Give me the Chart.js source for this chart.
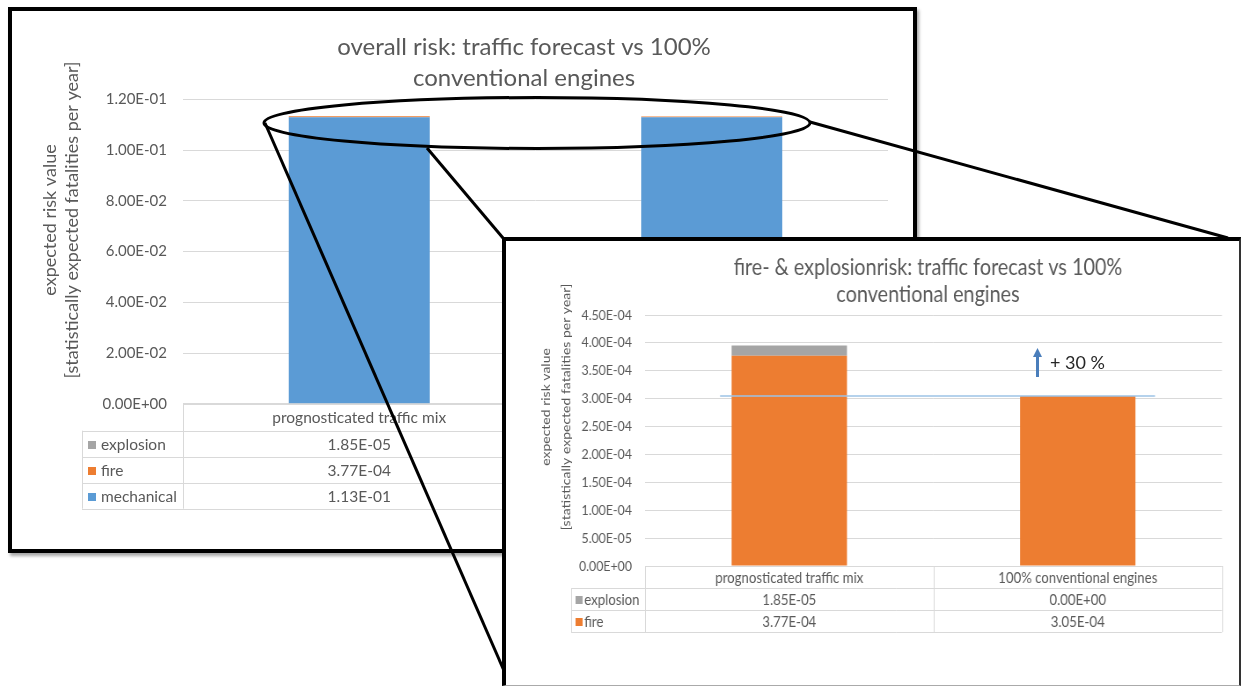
<!DOCTYPE html>
<html>
<head>
<meta charset="utf-8">
<script src="https://cdn.jsdelivr.net/npm/chart.js@4.4.1/dist/chart.umd.min.js"></script>
<style>
  html, body { margin: 0; padding: 0; background: #fff; }
  body { position: relative; width: 1242px; height: 686px; overflow: hidden; font-family: Lato, "Open Sans", sans-serif; }
  .frame { position: absolute; box-sizing: border-box; background: #fff; }
  #overallFrame { left: 8px; top: 7px; width: 909px; height: 546px; border: 4px solid #000; box-shadow: 2px 3px 3px rgba(0,0,0,0.35); }
  #overallFrame canvas { position: absolute; left: 0; top: 0; }
  #callout { position: absolute; left: 0; top: 0; }
  #detailFrame { left: 502px; top: 237px; width: 739px; height: 449px; overflow: hidden;
    border-left: 4px solid #000; border-top: 4px solid #000; border-right: 2px solid #333; border-bottom: 1px solid #aaa; }
  #detailBox { position: absolute; left: 0; top: 0; width: 833px; height: 444px; transform: scaleX(0.88); transform-origin: 0 0; }
  #arrow { position: absolute; left: 0; top: 0; }
  #increase { position: absolute; left: 1050px; top: 351px; font: 18px Lato, "Open Sans", sans-serif; color: #262626; white-space: nowrap; }
</style>
</head>
<body>
<div class="frame" id="overallFrame"><canvas id="overallChart" width="901" height="538"></canvas></div>

<svg id="callout" width="1242" height="686">
  <ellipse cx="537" cy="123" rx="273" ry="25.5" fill="none" stroke="#000" stroke-width="3"/>
  <line x1="265" y1="123" x2="505" y2="673" stroke="#000" stroke-width="3"/>
  <line x1="427" y1="148" x2="503" y2="238" stroke="#000" stroke-width="3"/>
  <line x1="810" y1="122" x2="1228" y2="238" stroke="#000" stroke-width="3"/>
</svg>

<div class="frame" id="detailFrame">
  <div id="detailBox"><canvas id="detailChart" width="833" height="444"></canvas></div>
</div>

<svg id="arrow" width="1242" height="686">
  <line x1="1037.5" y1="377" x2="1037.5" y2="355" stroke="#4a7ebb" stroke-width="3"/>
  <polygon points="1033,357 1042,357 1037.5,348" fill="#4a7ebb"/>
</svg>
<div id="increase"></div>

<script>
// ---- data ----
const categories = ['prognosticated traffic mix', '100% conventional engines'];
const mechanical = [1.13e-1, 1.13e-1];
const fire = [3.77e-4, 3.05e-4];
const explosion = [1.85e-5, 0];

const overallTicks = [0, 0.02, 0.04, 0.06, 0.08, 0.10, 0.12];
const detailTicks = [0, 5e-5, 1e-4, 1.5e-4, 2e-4, 2.5e-4, 3e-4, 3.5e-4, 4e-4, 4.5e-4];

const overallTitle = ['overall risk: traffic forecast vs 100%', 'conventional engines'];
const detailTitle = ['fire- & explosionrisk: traffic forecast vs 100%', 'conventional engines'];
const yTitle = ['expected risk value', '[statistically expected fatalities per year]'];

const COLORS = { mechanical: '#5b9bd5', fire: '#ed7d31', explosion: '#a5a5a5' };
const TEXT = '#595959';
const GRID = '#d9d9d9';
const FONT = 'Lato, "Open Sans", sans-serif';

// Excel-style scientific notation, e.g. 1.20E-01
function sci(v) {
  return Number(v).toExponential(2).toUpperCase().replace(/E([+-])(\d)$/, 'E$10$2');
}

// centred multi-line chart heading at a fixed spot
const headingPlugin = {
  id: 'heading',
  afterDraw(chart, args, o) {
    const ctx = chart.ctx;
    ctx.save();
    ctx.textAlign = 'center';
    ctx.textBaseline = 'middle';
    ctx.fillStyle = TEXT;
    ctx.font = o.size + 'px ' + FONT;
    o.lines.forEach((t, i) => ctx.fillText(t, o.x, o.y + i * o.lineHeight));
    ctx.restore();
  }
};

// rotated two-line title beside the value axis
const axisTitlePlugin = {
  id: 'axisTitle',
  afterDraw(chart, args, o) {
    const ctx = chart.ctx;
    ctx.save();
    ctx.translate(o.x, o.y);
    ctx.rotate(-Math.PI / 2);
    ctx.textAlign = 'center';
    ctx.textBaseline = 'middle';
    ctx.fillStyle = TEXT;
    ctx.font = o.size + 'px ' + FONT;
    o.lines.forEach((t, i) => ctx.fillText(t, 0, i * o.lineHeight));
    ctx.restore();
  }
};

// data table under the plot: category header plus one row per series
const dataTablePlugin = {
  id: 'dataTable',
  afterDraw(chart, args, o) {
    const { ctx, chartArea: a, scales: { x } } = chart;
    const rows = chart.data.datasets.slice().reverse();
    const top = a.bottom;
    const bottom = top + o.headerHeight + rows.length * o.rowHeight;
    const n = chart.data.labels.length;
    const cw = (a.right - a.left) / n;
    ctx.save();
    ctx.strokeStyle = GRID;
    ctx.lineWidth = 1;
    const h = (y, x0, x1) => { ctx.beginPath(); ctx.moveTo(x0, Math.round(y) + 0.5); ctx.lineTo(x1, Math.round(y) + 0.5); ctx.stroke(); };
    const v = (xx, y0, y1) => { ctx.beginPath(); ctx.moveTo(Math.round(xx) + 0.5, y0); ctx.lineTo(Math.round(xx) + 0.5, y1); ctx.stroke(); };
    h(top, a.left, a.right);
    for (let j = 0; j <= rows.length; j++) h(top + o.headerHeight + j * o.rowHeight, o.legendLeft, a.right);
    for (let i = 0; i <= n; i++) v(a.left + i * cw, top, bottom);
    v(o.legendLeft, top + o.headerHeight, bottom);

    ctx.font = o.size + 'px ' + FONT;
    ctx.fillStyle = TEXT;
    ctx.textBaseline = 'middle';
    ctx.textAlign = 'center';
    chart.data.labels.forEach((lab, i) => ctx.fillText(lab, x.getPixelForValue(i), top + o.headerHeight / 2 + 1));
    rows.forEach((ds, j) => {
      const cy = top + o.headerHeight + j * o.rowHeight + o.rowHeight / 2 + 1;
      ctx.fillStyle = ds.backgroundColor;
      ctx.fillRect(o.legendLeft + o.swatchX, Math.round(cy - o.swatch / 2), o.swatch, o.swatch);
      ctx.fillStyle = TEXT;
      ctx.textAlign = 'left';
      ctx.fillText(ds.label, o.legendLeft + o.textX, cy);
      ctx.textAlign = 'center';
      ds.data.forEach((val, i) => ctx.fillText(sci(val), x.getPixelForValue(i), cy));
    });
    ctx.restore();
  }
};

// horizontal reference line at a given value
const refLinePlugin = {
  id: 'refLine',
  afterDatasetsDraw(chart, args, o) {
    if (!o.enabled) return;
    const { ctx, chartArea: a, scales: { y } } = chart;
    const yy = y.getPixelForValue(o.value);
    const w = a.right - a.left;
    ctx.save();
    ctx.strokeStyle = o.color;
    ctx.lineWidth = o.width;
    ctx.beginPath();
    ctx.moveTo(a.left + o.from * w, yy);
    ctx.lineTo(a.left + o.to * w, yy);
    ctx.stroke();
    ctx.restore();
  }
};

Chart.register(headingPlugin, axisTitlePlugin, dataTablePlugin, refLinePlugin);

function buildOptions(cfg) {
  return {
    responsive: false,
    animation: false,
    layout: { padding: { left: 0, top: cfg.padTop, right: cfg.padRight, bottom: cfg.padBottom } },
    plugins: {
      legend: { display: false },
      tooltip: { enabled: false },
      title: { display: false },
      heading: cfg.heading,
      axisTitle: cfg.axisTitle,
      dataTable: cfg.table,
      refLine: cfg.refLine || { enabled: false }
    },
    scales: {
      x: { stacked: true, display: false },
      y: {
        stacked: true,
        min: 0,
        max: cfg.ticks[cfg.ticks.length - 1],
        afterBuildTicks: s => { s.ticks = cfg.ticks.map(v => ({ value: v })); },
        afterFit: s => { s.width = cfg.axisWidth; },
        grid: { color: GRID, lineWidth: 1, drawTicks: false },
        border: { display: false },
        ticks: {
          padding: cfg.tickPad,
          color: TEXT,
          font: { family: FONT, size: cfg.tickSize },
          callback: v => sci(v)
        }
      }
    }
  };
}

function dataset(label, data, color) {
  return { label, data, backgroundColor: color, borderWidth: 0, barPercentage: 0.4, categoryPercentage: 1 };
}

// overall risk (all three causes)
new Chart(document.getElementById('overallChart'), {
  type: 'bar',
  data: {
    labels: categories,
    datasets: [
      dataset('mechanical', mechanical, COLORS.mechanical),
      dataset('fire', fire, COLORS.fire),
      dataset('explosion', explosion, COLORS.explosion)
    ]
  },
  options: buildOptions({
    padTop: 88.5, padRight: 25, padBottom: 145.3,
    heading: { x: 512, y: 36, size: 24, lineHeight: 31, lines: overallTitle },
    ticks: overallTicks, axisWidth: 171, tickPad: 16, tickSize: 15,
    axisTitle: { x: 38, y: 209, size: 18, lineHeight: 22, lines: yTitle },
    table: { headerHeight: 27, rowHeight: 26, legendLeft: 70, swatchX: 6, swatch: 8, textX: 19, size: 15.5 }
  })
});

// fire and explosion risk only
new Chart(document.getElementById('detailChart'), {
  type: 'bar',
  data: {
    labels: categories,
    datasets: [
      dataset('fire', fire, COLORS.fire),
      dataset('explosion', explosion, COLORS.explosion)
    ]
  },
  options: buildOptions({
    padTop: 74, padRight: 19.4, padBottom: 119,
    heading: { x: 479.5, y: 27, size: 22.5, lineHeight: 27, lines: detailTitle },
    ticks: detailTicks, axisWidth: 158, tickPad: 15, tickSize: 14,
    axisTitle: { x: 45.5, y: 166, size: 14, lineHeight: 23, lines: yTitle },
    table: { headerHeight: 22, rowHeight: 22, legendLeft: 74, swatchX: 5, swatch: 8, textX: 15, size: 15 },
    refLine: { enabled: true, value: fire[1], from: 0.13, to: 0.884, color: '#9dc3e6', width: 1.5 }
  })
});

// relative increase of the prognosticated mix over conventional engines
const increase = Math.round(((fire[0] + explosion[0]) / (fire[1] + explosion[1]) - 1) * 100);
document.getElementById('increase').textContent = '+ ' + increase + ' %';
</script>
</body>
</html>
